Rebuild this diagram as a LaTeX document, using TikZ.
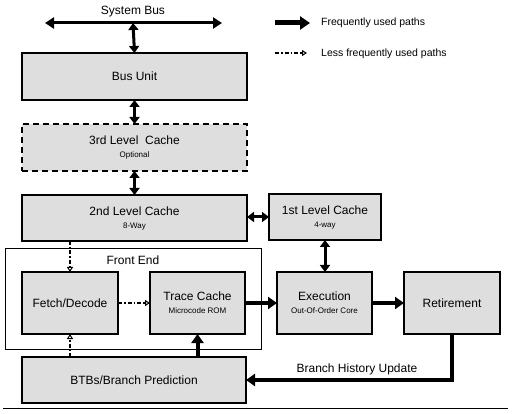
\documentclass[tikz,border=0pt]{standalone}
\usepackage{fontspec}
\setmainfont{Liberation Sans}
\usetikzlibrary{arrows.meta}
\definecolor{boxgray}{HTML}{DEDEDE}
\begin{document}
\begin{tikzpicture}[x=1pt,y=-1pt,
  box/.style={draw, line width=2.2pt, fill=boxgray, inner sep=0pt, outer sep=0pt, align=center, font=\fontsize{12}{14}\selectfont},
  lbl/.style={inner sep=0pt, font=\fontsize{12}{14}\selectfont},
  legtext/.style={inner sep=0pt, anchor=west, font=\fontsize{10.5}{12}\selectfont},
  fast/.style={line width=4pt, -{Triangle[length=9pt,width=12pt]}},
  dbl/.style={line width=3pt, {Triangle[length=7pt,width=10pt]}-{Triangle[length=7pt,width=10pt]}},
  less/.style={line width=1.8pt, dash pattern=on 4pt off 2pt on 1.5pt off 2pt, -{Triangle[open,length=5pt,width=6pt,line width=1pt]}}
]
\useasboundingbox (0,0) rectangle (517,414);
\newcommand{\subt}[1]{\\[-1pt]{\fontsize{8}{9}\selectfont #1}}

% system bus
\node[lbl] (sysbus) at (133,12) {System Bus};
\coordinate (busL) at (45,23);
\coordinate (busR) at (222,23);
\coordinate (busM) at (133,23);
\draw[line width=3pt, {Triangle[length=9pt,width=11pt]}-{Triangle[length=9pt,width=11pt]}] (busL) -- (busR);

% legend
\coordinate (lgA1) at (275,23);
\coordinate (lgA2) at (310,23);
\coordinate (lgB1) at (275,53);
\coordinate (lgB2) at (307,53);
\draw[line width=5pt, -{Triangle[length=10pt,width=13pt]}] (lgA1) -- (lgA2);
\draw[less] (lgB1) -- (lgB2);
\node[legtext] (lgAt) at (321,23) {Frequently used paths};
\node[legtext] (lgBt) at (321,54) {Less frequently used paths};

% boxes
\node[box, minimum width=225pt, minimum height=47pt] (bu) at (134.5,76.5) {Bus Unit};
\node[box, dashed, dash pattern=on 6pt off 4pt, minimum width=225pt, minimum height=47pt] (l3) at (134.5,147.5) {3rd Level~~Cache\subt{Optional}};
\node[box, minimum width=225pt, minimum height=46pt] (l2) at (134.5,218) {2nd Level Cache\subt{8-Way}};
\node[box, minimum width=112pt, minimum height=46pt] (l1) at (325,217) {1st Level Cache\subt{4-way}};

\draw[line width=0.8pt] (5,248) rectangle (261,349);
\node[lbl] (fe) at (133,260) {Front End};

\node[box, minimum width=96pt, minimum height=62pt] (fd) at (70,303) {Fetch/Decode};
\node[box, minimum width=95pt, minimum height=62pt] (tc) at (197.5,303) {Trace Cache\subt{Microcode ROM}};
\node[box, minimum width=95pt, minimum height=62pt] (ex) at (324.5,303) {Execution\subt{Out-Of-Order Core}};
\node[box, minimum width=96pt, minimum height=62pt] (rt) at (452,303) {Retirement};
\node[box, minimum width=224pt, minimum height=46pt] (btb) at (134,380) {BTBs/Branch Prediction};

\draw[line width=0.8pt] (3,408) -- (508,408);

% connectors
\draw[dbl] (busM) -- (bu.north);
\draw[dbl] (bu.south) -- (l3.north);
\draw[dbl] (l3.south) -- (l2.north);
\draw[line width=3pt, {Triangle[length=7pt,width=10pt]}-{Triangle[length=7pt,width=10pt]}] (l2.east |- l1.west) -- (l1.west);
\draw[dbl] (l1.south) -- (l1.south |- ex.north);
\draw[less] (l2.south -| fd.north) -- (fd.north);
\draw[less] (fd.east) -- (tc.west);
\draw[less] (btb.north -| fd.south) -- (fd.south);
\draw[fast] (btb.north -| tc.south) -- (tc.south);
\draw[fast] (tc.east) -- (ex.west);
\draw[fast] (ex.east) -- (rt.west);
\draw[fast] (rt.south) |- (btb.east);
\node[lbl] (bhu) at (357,369) {Branch History Update};
\end{tikzpicture}
\end{document}
